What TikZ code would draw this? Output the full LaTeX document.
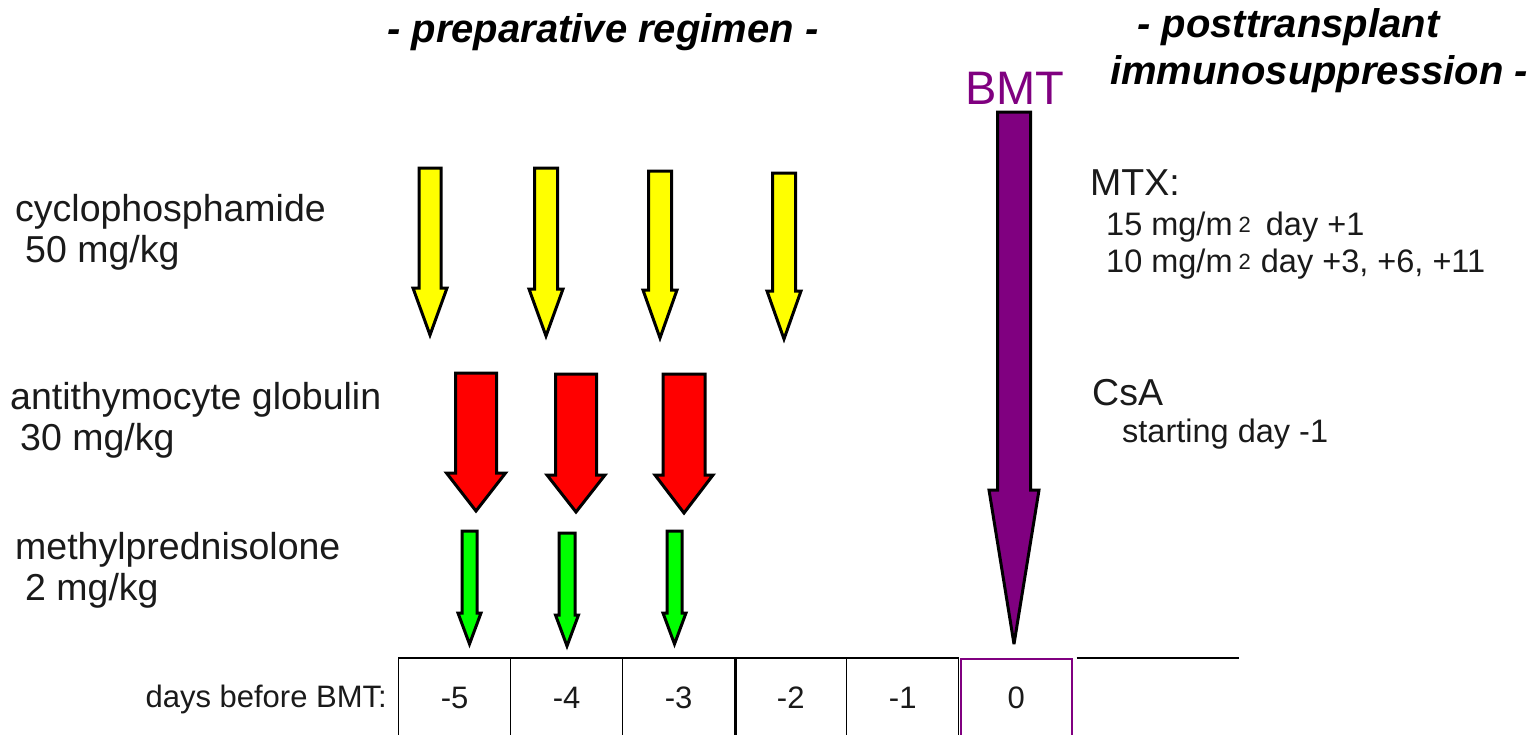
\documentclass[tikz,border=0pt]{standalone}
\usepackage{fontspec}
\setmainfont{Liberation Sans}
\definecolor{bmtpurple}{HTML}{800080}
\definecolor{cyyellow}{HTML}{FFFF00}
\definecolor{atgred}{HTML}{FF0000}
\definecolor{mpgreen}{HTML}{00FF00}
\definecolor{ink}{HTML}{1A1A1A}
% Block arrow pointing down:
% #1 centre x, #2 top y, #3 half shaft width, #4 shoulder y, #5 half head width, #6 tip y, #7 fill
\newcommand\blockdown[7]{%
  \draw[arrowline, fill=#7] (#1-#3,#2) -- (#1+#3,#2) -- (#1+#3,#4) -- (#1+#5,#4)
    -- (#1,#6) -- (#1-#5,#4) -- (#1-#3,#4) -- cycle;}
\newcommand\smalltwo{{\fontsize{22}{22}\selectfont\raisebox{3pt}{2}}}
\begin{document}
\begin{tikzpicture}[x=1pt,y=-1pt,
  arrowline/.style={draw=black, line width=3pt, line join=miter, miter limit=3},
  lbl/.style={anchor=base west, inner sep=0pt, text=ink, font=\fontsize{37.5}{45}\selectfont},
  sublbl/.style={anchor=base west, inner sep=0pt, text=ink, font=\fontsize{32.5}{38}\selectfont},
  phase/.style={anchor=base west, inner sep=0pt, font=\fontsize{40}{48}\selectfont\bfseries\itshape},
  daycell/.style={draw=black, line width=1.4pt, minimum width=112pt, minimum height=78pt,
    anchor=north west, inner sep=0pt, text=ink, font=\fontsize{31}{37}\selectfont},
  zerocell/.style={daycell, draw=bmtpurple, line width=1.6pt, minimum width=111pt}]
\useasboundingbox (0,0) rectangle (1539,734);
\fill[white] (0,0) rectangle (1539,734);

% phase headings
\node[phase] (prep) at (387,42) {- preparative regimen -};
\node[phase] (post1) at (1137,37) {- posttransplant};
\node[phase] (post2) at (1110,84) {immunosuppression -};

% drug labels
\node[lbl] (cy) at (15,221) {cyclophosphamide};
\node[lbl] (cyd) at (25,262) {50 mg/kg};
\node[lbl] (atg) at (10,409) {antithymocyte globulin};
\node[lbl] (atgd) at (20,450) {30 mg/kg};
\node[lbl] (mp) at (15,559) {methylprednisolone};
\node[lbl] (mpd) at (25,600) {2 mg/kg};

% posttransplant immunosuppression
\node[lbl] (mtx) at (1090,195) {MTX:};
\node[sublbl] (mtx1) at (1106,235) {15 mg/m\hspace{6pt}\smalltwo\hspace{15pt}day +1};
\node[sublbl] (mtx2) at (1106,272) {10 mg/m\hspace{6pt}\smalltwo\hspace{10pt}day +3, +6, +11};
\node[lbl] (csa) at (1092,405) {CsA};
\node[sublbl] (csa1) at (1122,442) {starting day -1};

% BMT
\node[anchor=base, inner sep=0pt, text=bmtpurple, font=\fontsize{47}{56}\selectfont] (bmt) at (1015,104) {BMT};

% cyclophosphamide
\blockdown{430}{168}{11}{288}{17}{335}{cyyellow}
\blockdown{546}{168}{11.5}{289}{17}{336}{cyyellow}
\blockdown{660}{171}{11.5}{290}{17}{338}{cyyellow}
\blockdown{784}{173}{11.5}{291}{17}{339}{cyyellow}
% antithymocyte globulin
\blockdown{476}{373}{20.5}{473}{29.5}{511}{atgred}
\blockdown{576}{374}{20.5}{475}{29}{512}{atgred}
\blockdown{684}{374}{21}{475}{29}{513}{atgred}
% methylprednisolone
\blockdown{469.5}{531}{7.5}{613}{11.5}{644}{mpgreen}
\blockdown{567}{533}{8}{615}{11.5}{646}{mpgreen}
\blockdown{674.5}{531}{7.5}{613}{11.5}{644}{mpgreen}
% BMT
\blockdown{1014}{112}{16.5}{490}{25}{644}{bmtpurple}

% timeline
\node[anchor=base east, inner sep=0pt, text=ink, font=\fontsize{31}{37}\selectfont] (days) at (387,707) {days before BMT:};
\node[daycell] (d5) at (398,658) {-5};
\node[daycell] (d4) at (510,658) {-4};
\node[daycell] (d3) at (622,658) {-3};
\node[daycell] (d2) at (734,658) {-2};
\node[daycell] (d1) at (846,658) {-1};
\node[zerocell] (d0) at (960,658) {0};
\draw[line width=2.2pt] (d5.north west) -- (d1.north east);
\draw[line width=2.6pt] (d3.north east) -- (d3.south east);
\coordinate (lineend) at (1239,658);
\draw[line width=2.2pt] ([xshift=4pt]d0.north east) -- (lineend);
\end{tikzpicture}
\end{document}
